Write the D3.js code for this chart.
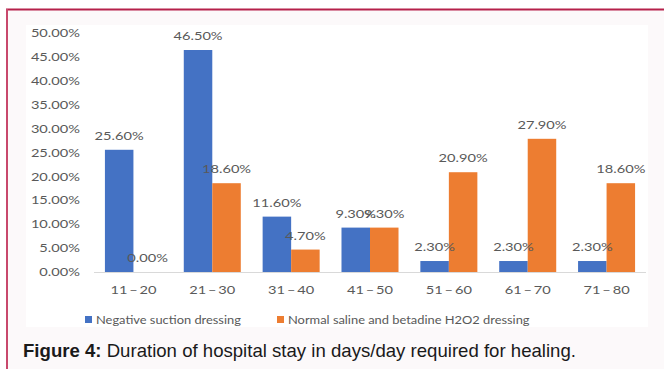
<!DOCTYPE html>
<html>
<head>
<meta charset="utf-8">
<script src="https://cdn.jsdelivr.net/npm/d3@7"></script>
<style>
  html, body { margin: 0; padding: 0; background: #ffffff; }
  svg { display: block; }
</style>
</head>
<body>
<svg id="chart" width="664" height="369"></svg>
<script>
// Hospital stay duration (days) by dressing type
const categories = ["11\u2009–\u200920", "21\u2009–\u200930", "31\u2009–\u200940", "41\u2009–\u200950", "51\u2009–\u200960", "61\u2009–\u200970", "71\u2009–\u200980"];
const seriesNames = ["Negative suction dressing", "Normal saline and betadine H2O2 dressing"];
const negativeSuction = [25.6, 46.5, 11.6, 9.3, 2.3, 2.3, 2.3];
const salineBetadine = [0.0, 18.6, 4.7, 9.3, 20.9, 27.9, 18.6];
const yTicks = [0, 5, 10, 15, 20, 25, 30, 35, 40, 45, 50];
const colors = ["#4472C4", "#ED7D31"];

const svg = d3.select("#chart");
const textColor = "#595959";
const font = "Lato, 'Open Sans', sans-serif";

// Figure frame
svg.append("rect").attr("x", 7).attr("y", 10).attr("width", 657).attr("height", 359).attr("fill", "#fcf9fa");
svg.append("rect").attr("x", 26).attr("y", 25).attr("width", 622).attr("height", 302).attr("fill", "#ffffff");
svg.append("line").attr("x1", 6).attr("x2", 664).attr("y1", 9.5).attr("y2", 9.5)
  .attr("stroke", "#b5214a").attr("stroke-width", 2);
svg.append("line").attr("x1", 7).attr("x2", 7).attr("y1", 9).attr("y2", 369)
  .attr("stroke", "#c8486c").attr("stroke-width", 2);

// Scales
const x0 = d3.scaleBand().domain(categories).range([94, 646]).paddingInner(0.277).paddingOuter(0.1385);
const x1 = d3.scaleBand().domain([0, 1]).range([0, x0.bandwidth()]).padding(0);
const y = d3.scaleLinear().domain([0, 50]).range([272, 33.3]);

function stretchedText(g, x, yPos, anchor, txt, size, stretch) {
  return g.append("text")
    .attr("transform", `translate(${x},${yPos}) scale(${stretch},1)`)
    .attr("text-anchor", anchor)
    .attr("font-family", font)
    .attr("font-size", size)
    .attr("fill", textColor)
    .text(txt);
}

// Y axis labels (no gridlines)
const yAxis = svg.append("g");
yTicks.forEach(t => {
  stretchedText(yAxis, 80, y(t) + 4, "end", t.toFixed(2) + "%", 12, 1.22);
});

// Bars
const rows = categories.map((c, i) => ({ cat: c, vals: [negativeSuction[i], salineBetadine[i]] }));
const groups = svg.append("g").selectAll("g").data(rows).join("g")
  .attr("transform", d => `translate(${x0(d.cat)},0)`);
groups.selectAll("rect").data(d => d.vals.map((v, k) => ({ v, k }))).join("rect")
  .attr("x", d => x1(d.k))
  .attr("y", d => y(d.v))
  .attr("width", x1.bandwidth())
  .attr("height", d => y(0) - y(d.v))
  .attr("fill", d => colors[d.k]);

// Value labels
groups.each(function (d) {
  const g = d3.select(this);
  d.vals.forEach((v, k) => {
    stretchedText(g, x1(k) + x1.bandwidth() / 2, y(v) - 10, "middle", v.toFixed(2) + "%", 12, 1.22);
  });
});

// X axis baseline and labels
svg.append("line").attr("x1", 94).attr("x2", 646).attr("y1", y(0) + 0.5).attr("y2", y(0) + 0.5)
  .attr("stroke", "#d9d9d9").attr("stroke-width", 1);
const xAxis = svg.append("g");
categories.forEach(c => {
  stretchedText(xAxis, x0(c) + x0.bandwidth() / 2, 294, "middle", c, 12, 1.22);
});

// Legend
const legendX = [85, 277];
seriesNames.forEach((name, k) => {
  svg.append("rect").attr("x", legendX[k]).attr("y", 316).attr("width", 7).attr("height", 7).attr("fill", colors[k]);
  stretchedText(svg, legendX[k] + 11, 323.5, "start", name, 11.5, 1.12);
});

// Caption
const cap = svg.append("text").attr("x", 23).attr("y", 357)
  .attr("font-family", "'Liberation Sans', Arial, sans-serif").attr("font-size", 18.6).attr("fill", "#1a1a1a");
cap.append("tspan").attr("font-weight", "bold").text("Figure 4:");
cap.append("tspan").text(" Duration of hospital stay in days/day required for healing.");
</script>
</body>
</html>
